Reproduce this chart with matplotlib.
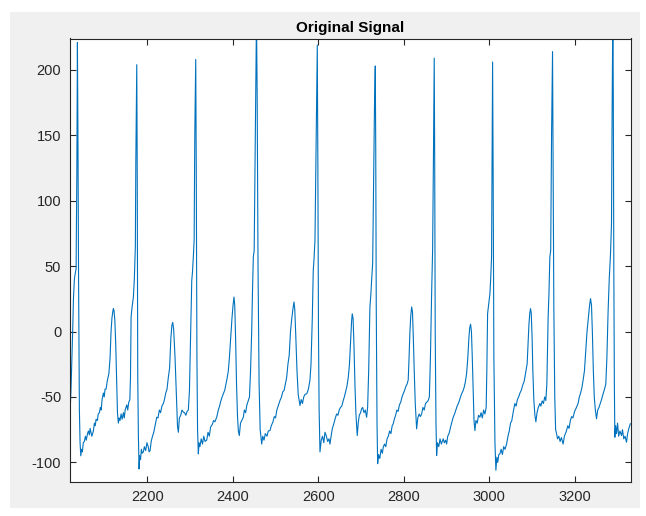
import matplotlib
matplotlib.use('Agg')
import matplotlib.pyplot as plt
from matplotlib.patches import Rectangle

# sample index / amplitude pairs
sample_idx = [
    2018.2, 2020, 2021.5, 2023.5, 2025.5, 2027, 2029.2, 2031, 2033.2, 2034.9, 2035.5, 2036.3, 2037.5, 2039, 2040.9, 2042.5, 2044.2,
    2046, 2048, 2050, 2052.6, 2055, 2057, 2060, 2062, 2064.3, 2066, 2068, 2070, 2073.7, 2076, 2078, 2080, 2083, 2085, 2087.7,
    2090, 2092, 2094, 2097.1, 2099, 2101, 2103.4, 2106, 2108, 2110, 2112.7, 2115, 2117, 2119, 2120.4, 2122, 2124, 2126, 2128.4,
    2130, 2132.1, 2134, 2136, 2138.5, 2141, 2143.9, 2146, 2148, 2150, 2151.8, 2154, 2156.5, 2159, 2160.5, 2161.9, 2164, 2167.3,
    2169.5, 2171.9, 2173, 2175.2, 2176.3, 2177.5, 2179, 2180.6,
    2182, 2184, 2186, 2188, 2190.6, 2193, 2196, 2199, 2202, 2204, 2206.3, 2209, 2212, 2215, 2218, 2222, 2225, 2228, 2231, 2234,
    2237.4, 2240, 2243, 2246, 2249.1, 2252, 2255, 2257.5, 2259.4, 2261.5, 2264.8, 2268, 2270.5, 2272.5, 2275, 2278, 2281, 2284.2,
    2287, 2290, 2293, 2295.9, 2298.5, 2301, 2303.9, 2305.5, 2307.6, 2309.5, 2311, 2313.2, 2314.5, 2316, 2317.5, 2319.3,
    2321, 2323, 2326, 2329, 2332, 2335, 2338.9, 2342, 2345, 2348, 2352, 2355, 2358, 2362.3, 2366, 2369, 2372, 2375, 2377.8, 2381,
    2384, 2386.5, 2389.5, 2392, 2395, 2398, 2400.5, 2402.8, 2404.5, 2406.5, 2408.7, 2411, 2413, 2415.2, 2418, 2421, 2424.6, 2427,
    2430, 2433, 2436.3, 2439, 2441.5, 2444.2, 2446, 2448, 2450, 2452, 2454, 2455.4, 2457, 2459, 2461.5, 2464, 2467.6,
    2470, 2473, 2476, 2480, 2483, 2487, 2490, 2494, 2497, 2500, 2503, 2507, 2510.4, 2514, 2517, 2520, 2523, 2526.1, 2529, 2532,
    2535, 2538, 2541, 2543.2, 2545, 2547, 2550.2, 2553, 2557.2, 2560, 2563, 2566, 2569, 2572.9, 2576, 2578, 2580.6, 2583, 2586,
    2588.3, 2590, 2592.3, 2594.5, 2596.5, 2597.7, 2599, 2600.5, 2602, 2604,
    2607, 2610, 2613, 2615.7, 2619, 2622, 2625, 2627.4, 2630, 2633, 2636, 2640, 2643, 2646, 2649, 2652, 2655, 2658.5, 2661, 2664,
    2667, 2670.2, 2673, 2676, 2678, 2679.5, 2681.5, 2683.5, 2685.8, 2688, 2691.2, 2693.5, 2696, 2699, 2701.5, 2704, 2707, 2710,
    2713.2, 2715.5, 2718, 2720.9, 2723, 2725, 2727.3, 2729, 2731.5, 2733.4, 2734.5, 2735.7, 2737.5, 2739,
    2741, 2744, 2747, 2750, 2752.1, 2755, 2758, 2761, 2764, 2767, 2770, 2773, 2775.4, 2778, 2781, 2784, 2787, 2790, 2793, 2796,
    2798.8, 2802, 2805, 2808, 2810.5, 2812.5, 2814.5, 2816.5, 2818.5, 2820.5, 2822.5, 2824.6, 2827, 2830.2, 2833, 2836, 2839,
    2841.9, 2845, 2848, 2851, 2854, 2857.3, 2860, 2862.5, 2865.3, 2867.6, 2869.5, 2871.4, 2872.5, 2873.7, 2875.5, 2877,
    2879, 2882, 2885, 2888, 2892.4, 2895, 2898, 2900.4, 2903, 2906, 2909, 2912, 2915.8, 2919, 2922, 2925, 2928, 2931, 2935,
    2939.2, 2942, 2944.5, 2947.2, 2950, 2952.5, 2954.5, 2956.5, 2958.5, 2960.5, 2962.5, 2964.5, 2966.6, 2969, 2972, 2975, 2978.3,
    2981, 2984, 2987, 2990, 2993, 2994.5, 2996.3, 2998.5, 3001.7, 3003.5, 3005.6, 3006.8, 3008, 3009.3, 3011, 3013.5, 3015.7,
    3018, 3020, 3022.5, 3025, 3028, 3031, 3034, 3037, 3040.7, 3044, 3047, 3050, 3053, 3056, 3060.1, 3063, 3066, 3069, 3072, 3075,
    3079.5, 3082, 3085, 3088.9, 3091, 3093, 3095, 3096.8, 3098.5, 3100.5, 3102.2, 3104.5, 3107, 3109.3, 3112, 3115, 3118.6, 3121,
    3124, 3127, 3130, 3132.6, 3135, 3138, 3140, 3142, 3144, 3146, 3148.3, 3149.5, 3151.3, 3153.5, 3155.5, 3157.7,
    3160, 3163, 3166, 3169, 3173.1, 3176, 3178.5, 3181, 3184, 3187, 3190, 3193, 3196, 3200, 3204.5, 3208, 3211, 3214, 3217,
    3219.9, 3223, 3226, 3229, 3232, 3235, 3237.2, 3239.5, 3241.5, 3243.8, 3246, 3248.5, 3251.2, 3254, 3257, 3260, 3263, 3266.7,
    3270, 3273, 3275.5, 3278.4, 3281, 3284, 3286.3, 3287.8, 3289.4, 3290.5, 3291.7, 3293, 3294.1,
    3296, 3298, 3300.5, 3303, 3306, 3309.7, 3312, 3315, 3318, 3321.4, 3324, 3327, 3330.3,
]
amplitude = [
    -61, -55, -42, -20, 4, 25, 40, 44, 48, 119, 170, 221, 150, 40, -60, -85, -95,
    -90, -92, -85, -84, -80, -83, -78, -76, -79, -74, -77, -80, -76, -70, -72, -67, -68, -63, -62,
    -58, -60, -52, -47, -50, -44, -44, -38, -35, -32, -20, 0, 10, 15, 17.5, 16, 8, -10, -42,
    -62, -70, -66, -68, -63, -67, -62, -66, -60, -58, -56, -60, -54, -52, -35, 11, 18, 26.5,
    40, 65, 130, 204, 120, -35, -80, -105,
    -95, -98, -90, -93, -92, -88, -91, -85, -88, -92, -91, -84, -80, -77, -72, -65.5, -66, -60, -62, -57,
    -55, -52, -47, -44, -35, -28, -5, 5, 7, 2, -20, -50, -72, -77, -66, -64, -60, -61.6,
    -62, -64, -61, -60, -45, -5, 39, 45, 57, 70, 150, 208, 120, -20, -75, -93.5,
    -85, -88, -82, -86, -80, -84, -83, -77, -80, -73, -71, -68, -69, -65.5, -60, -57, -53, -50, -47.5, -45,
    -40, -36, -30, -20, -5, 10, 20, 26.4, 20, -5, -40, -65, -76, -79.5, -70, -68, -65.5, -60,
    -62, -56, -52.7, -50, -30, 0.5, 30, 57, 62, 130, 200, 240, 180, 50, -40, -75, -86,
    -80, -83, -78, -80, -76, -75.7, -72, -69, -65, -66, -60, -56, -52.7, -50, -46, -45, -40, -35, -25, -18,
    0, 10, 18, 22.6, 17, 0, -30, -48, -56.5, -52, -55, -50, -48, -47.6, -45, -42, -37, -25, 10,
    47, 55, 70, 130, 190, 219, 130, 0, -60, -92,
    -83, -80, -85, -77, -80, -84, -82, -86, -80, -74, -71, -66, -63, -64, -60, -58, -57, -52.7, -50, -46,
    -42, -35, -25, -5, 8, 13.6, 10, -10, -40, -62, -79.5, -70, -64, -62, -59, -58, -62, -60,
    -65.5, -58, -30, 18.8, 28, 40, 52, 100, 170, 203, 140, 20, -70, -101,
    -94, -97, -90, -93, -88.4, -86, -88, -82, -80, -76, -78, -72, -70.5, -67, -64, -60, -61, -56, -54, -50,
    -47.5, -45, -42, -40, -37, -20, 0, 12, 18.8, 15, -5, -30, -55, -74.4, -66, -63, -65,
    -63, -58, -60, -55, -54, -52.7, -50, -20, 29, 62, 130, 209, 130, 0, -70, -94.8,
    -85, -88, -82, -86, -82, -85, -83, -86, -80, -78, -74, -70, -65.5, -63, -60, -57, -55, -52, -48,
    -45, -42, -38, -32, -20, -5, 3, 5.6, 0, -20, -45, -68, -75.7, -68, -70, -64, -65.5,
    -62, -66, -60, -63, -58, -30, 13.6, 20, 29, 40, 57, 130, 206, 120, -20, -85, -106,
    -96, -100, -94, -93.5, -90, -94, -88, -90, -86, -80, -76, -70, -68, -62, -55, -57, -52, -50, -47, -45,
    -40, -38, -32, -24.6, -10, 5, 14, 17.5, 14, -5, -30, -52, -64, -69, -62, -58, -55, -57,
    -53, -55, -50, -52.7, -40, 11, 30, 57, 62, 150, 214, 140, 20, -50, -75, -78,
    -82, -80, -84, -81, -86, -80, -78, -75.7, -72, -74, -68, -65, -66, -61, -57.8, -55, -50, -47, -43,
    -37, -30, -15, 0, 10, 20, 25.2, 20, 0, -30, -50, -60, -66.7, -60, -58, -55, -52, -47.5,
    -44, -40, -20, 16, 40, 59.6, 82.6, 170, 245, 180, 50, -40, -80.8,
    -72, -78, -70, -80, -76, -79.5, -75, -82, -80, -84.6, -78, -74, -70.5,
]

x_ticks = [2200, 2400, 2600, 2800, 3000, 3200]
y_ticks = [-100, -50, 0, 50, 100, 150, 200]

plt.rcParams['font.family'] = ['Liberation Sans', 'DejaVu Sans']
plt.rcParams['axes.unicode_minus'] = False

fig = plt.figure(figsize=(6.46, 5.16), dpi=100)
fig.patch.set_facecolor('white')
# matlab-style grey figure panel
fig.patches.append(Rectangle((10 / 646, 8 / 516), 630 / 646, 496 / 516,
                             transform=fig.transFigure, facecolor='#f0f0f0',
                             edgecolor='none', zorder=-10))

ax = fig.add_axes([69.6 / 646, 34 / 516, 561 / 646, 443.5 / 516])
ax.plot(sample_idx, amplitude, color='#0072BD', linewidth=0.8)

ax.set_xlim(2018, 3331)
ax.set_ylim(-115, 224)
ax.set_xticks(x_ticks)
ax.set_yticks(y_ticks)
ax.tick_params(direction='in', length=4, width=0.8, colors='#262626',
               labelsize=10.5, top=True, right=True, pad=6)
for s in ax.spines.values():
    s.set_color('#262626')
    s.set_linewidth(0.8)

ax.set_title('Original Signal', fontsize=11, fontweight='bold', color='black', pad=5)

fig.savefig('out.png', dpi=100)
